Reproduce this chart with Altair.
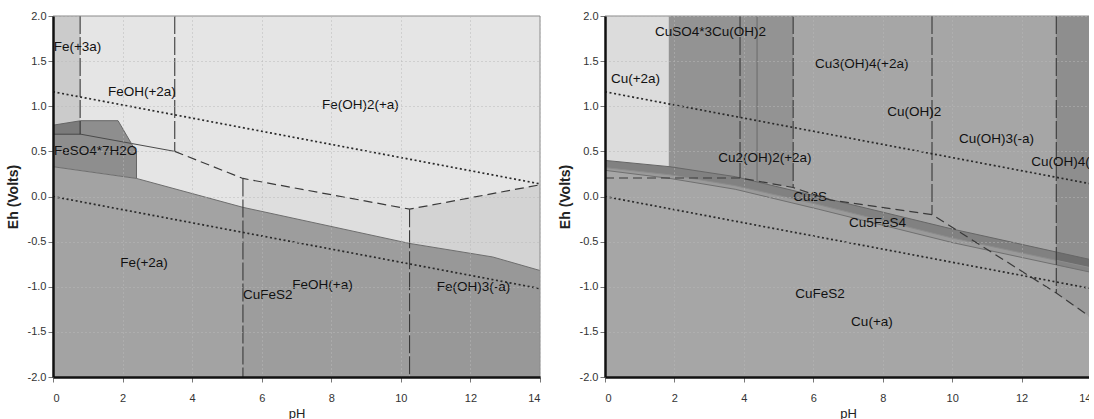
import altair as alt
import pandas as pd

# ---------------- axes ----------------
PH_DOMAIN = [0, 14]
EH_DOMAIN = [-2.0, 2.0]
PH_TICKS = [0, 2, 4, 6, 8, 10, 12, 14]
EH_TICKS = [-2.0, -1.5, -1.0, -0.5, 0.0, 0.5, 1.0, 1.5, 2.0]

# ---------------- water stability lines (both panels) ----------------
WATER_PH = [0, 14]
WATER_EH = {"O2/H2O": [1.16, 0.14], "H2O/H2": [0.0, -1.02]}

# ---------------- Fe panel ----------------
FE_BASE_FIELDS = {  # name: (pH points, lower Eh, upper Eh)
    "Fe(+3a)": ([0, 0.78], [0.79, 0.84], [2.0, 2.0]),
    "Fe(OH)3 upper": ([10.25, 12.64, 14], [-0.52, -0.67, -0.82], [-0.14, 0.03, 0.13]),
    "Fe(OH)2 lower": ([5.46, 10.25], [-0.12, -0.52], [0.20, -0.14]),
    "Fe(+2a)": ([0, 2.4, 5.46], [-2.0, -2.0, -2.0], [0.33, 0.20, -0.12]),
    "FeOH(+a)": ([5.46, 10.25], [-2.0, -2.0], [-0.12, -0.52]),
    "Fe(OH)3(-a)": ([10.25, 12.64, 14], [-2.0, -2.0, -2.0], [-0.52, -0.67, -0.82]),
    "FeSO4*7H2O": ([0, 0.8, 1.87, 2.4], [0.33, 0.287, 0.229, 0.20], [0.79, 0.84, 0.84, 0.49]),
}
FE_OVER_FIELDS = {
    "FeSO4 corner": ([0, 0.8], [0.69, 0.69], [0.79, 0.84]),
}
FE_FILL = {
    "Fe(+3a)": "#cbcbcb", "Fe(OH)3 upper": "#d3d3d3", "Fe(OH)2 lower": "#dedede",
    "Fe(+2a)": "#a3a3a3", "FeOH(+a)": "#9d9d9d", "Fe(OH)3(-a)": "#989898",
    "FeSO4*7H2O": "#8e8e8e", "FeSO4 corner": "#7b7b7b",
}
FE_BG = "#e5e5e5"

FE_SOLID = {  # name: (pH, Eh)
    "boundary": ([0, 2.4, 5.46, 10.25, 12.64, 14], [0.33, 0.20, -0.12, -0.52, -0.67, -0.82]),
    "FeOH2+ base": ([0, 0.8, 3.5], [0.69, 0.69, 0.50]),
    "FeSO4 edge": ([0, 0.8, 1.87, 2.4, 2.4], [0.79, 0.84, 0.84, 0.49, 0.20]),
}
FE_SOLID_COLOR = {"boundary": "#6e6e6e", "FeOH2+ base": "#4a4a4a", "FeSO4 edge": "#666666"}
FE_DASHED = {
    "d1": ([3.5, 5.46, 10.25, 14], [0.50, 0.20, -0.14, 0.13]),
}
FE_VDASHED = {
    "v1": ([0.78, 0.78], [2.0, 0.69]),
    "v2": ([3.5, 3.5], [2.0, 0.50]),
    "v3": ([5.46, 5.46], [0.20, -2.0]),
    "v4": ([10.25, 10.25], [-0.14, -2.0]),
}
FE_LABELS = [
    ("Fe(+3a)", 0.02, 1.66), ("FeOH(+2a)", 1.58, 1.16), ("Fe(OH)2(+a)", 7.73, 1.01),
    ("FeSO4*7H2O", 0.03, 0.50), ("Fe(+2a)", 1.93, -0.74), ("CuFeS2", 5.46, -1.09),
    ("FeOH(+a)", 6.88, -0.98), ("Fe(OH)3(-a)", 11.03, -1.00),
]

# ---------------- Cu panel ----------------
BAND_PH = [0, 1.87, 3.75, 6.14, 10, 14]
BAND_TOP = [0.40, 0.33, 0.22, 0.0, -0.36, -0.70]
BAND_MID = [0.32, 0.24, 0.12, -0.09, -0.46, -0.79]
BAND_LOW = [0.29, 0.20, 0.08, -0.14, -0.51, -0.84]

CU_BASE_FIELDS = {
    "Cu(+2a)": ([0, 1.84], [0.40, 0.33], [2.0, 2.0]),
    "CuSO4*3Cu(OH)2": ([1.84, 3.75, 3.89, 5.42], [0.33, 0.22, 0.205, 0.10], [2.0, 2.0, 2.0, 2.0]),
    "Cu(OH)4(-a)": ([13, 14], [-1.07, -1.34], [2.0, 2.0]),
}
CU_OVER_FIELDS = {
    "Cu(OH)4 lower": ([13, 14], [-1.07, -1.34], [-0.76, -0.84]),
}
CU_BAND_FIELDS = {
    "Cu2S band": (BAND_PH, BAND_MID, BAND_TOP),
    "Cu5FeS4 band": (BAND_PH, BAND_LOW, BAND_MID),
}
CU_FILL = {
    "Cu(+2a)": "#dcdcdc", "CuSO4*3Cu(OH)2": "#939393", "Cu(OH)4(-a)": "#8e8e8e",
    "Cu(OH)4 lower": "#9b9b9b", "Cu2S band": "#000000", "Cu5FeS4 band": "#000000",
}
CU_ALPHA = {"Cu2S band": 0.22, "Cu5FeS4 band": 0.07}
CU_BG = "#a6a6a6"

CU_SOLID = {
    "band top": (BAND_PH, BAND_TOP),
    "band mid": (BAND_PH, BAND_MID),
    "band low": (BAND_PH, BAND_LOW),
    "v 4.38": ([4.38, 4.38], [2.0, 0.16]),
}
CU_SOLID_COLOR = {"band top": "#666666", "band mid": "#8c8c8c", "band low": "#707070", "v 4.38": "#6a6a6a"}
CU_DASHED = {
    "d1": ([0, 3.89, 5.42, 6.5, 9.42, 13, 14], [0.205, 0.205, 0.10, -0.04, -0.20, -1.07, -1.34]),
}
CU_VDASHED = {
    "v1": ([3.89, 3.89], [2.0, 0.205]),
    "v2": ([5.42, 5.42], [2.0, 0.10]),
    "v3": ([9.42, 9.42], [2.0, -0.20]),
    "v4": ([13.0, 13.0], [2.0, -1.07]),
}
CU_LABELS = [
    ("CuSO4*3Cu(OH)2", 1.44, 1.82), ("Cu(+2a)", 0.17, 1.30), ("Cu3(OH)4(+2a)", 6.05, 1.47),
    ("Cu(OH)2", 8.13, 0.94), ("Cu(OH)3(-a)", 10.2, 0.64), ("Cu(OH)4(-a)", 12.28, 0.38),
    ("Cu2(OH)2(+2a)", 3.26, 0.43), ("Cu2S", 5.42, 0.0), ("Cu5FeS4", 7.03, -0.29),
    ("CuFeS2", 5.48, -1.08), ("Cu(+a)", 7.09, -1.39),
]

FONT = "Liberation Sans"
H = 361
W_LEFT, W_RIGHT = 487, 486

XS = alt.Scale(domain=PH_DOMAIN, nice=False, zero=False)
YS = alt.Scale(domain=EH_DOMAIN, nice=False, zero=False)
XAX = alt.Axis(values=PH_TICKS, title="pH", grid=True, zindex=1,
               labelPadding=10, titlePadding=4)
YAX = alt.Axis(values=EH_TICKS, title="Eh (Volts)", grid=True, zindex=1,
               labelExpr="replace(format(datum.value, '.1f'), '\u2212', '-')",
               labelPadding=2, titlePadding=7, titleFontWeight="bold",
               titleFontSize=14)


def X(f="ph"):
    return alt.X(f"{f}:Q", scale=XS, axis=XAX)


def Y(f="eh"):
    return alt.Y(f"{f}:Q", scale=YS, axis=YAX)


def area_frame(fields, fills, alphas=None):
    rows = []
    for name, (ph, lo, hi) in fields.items():
        for p, a, b in zip(ph, lo, hi):
            rows.append({"region": name, "ph": p, "lo": a, "hi": b,
                         "fill": fills[name],
                         "alpha": (alphas or {}).get(name, 1.0)})
    return pd.DataFrame(rows)


def line_frame(lines, colors=None, default="#3a3a3a"):
    rows = []
    for name, (ph, eh) in lines.items():
        for i, (p, e) in enumerate(zip(ph, eh)):
            rows.append({"line": name, "idx": i, "ph": p, "eh": e,
                         "stroke": (colors or {}).get(name, default)})
    return pd.DataFrame(rows)


def area_layer(df):
    return alt.Chart(df).mark_area(interpolate="linear").encode(
        x=X("ph"), y=Y("lo"), y2=alt.Y2("hi"),
        color=alt.Color("fill:N", scale=None),
        opacity=alt.Opacity("alpha:Q", scale=None),
        detail="region:N",
    )


def line_layer(df, width, dash=None):
    kw = {"strokeWidth": width}
    if dash:
        kw["strokeDash"] = dash
    return alt.Chart(df).mark_line(**kw).encode(
        x=X("ph"), y=Y("eh"), detail="line:N", order="idx:Q",
        color=alt.Color("stroke:N", scale=None),
    )


def panel(bg, layers_fields, solid, solid_colors, dashed, vdashed, labels, width):
    bg_df = pd.DataFrame({"ph": [PH_DOMAIN[0], PH_DOMAIN[1]],
                          "lo": [EH_DOMAIN[0]] * 2, "hi": [EH_DOMAIN[1]] * 2,
                          "fill": [bg, bg], "alpha": [1.0, 1.0], "region": ["bg", "bg"]})
    layers = [area_layer(bg_df)]
    for df in layers_fields:
        layers.append(area_layer(df))
    water = {k: (WATER_PH, v) for k, v in WATER_EH.items()}
    layers.append(line_layer(line_frame(solid, solid_colors), 1.0))
    layers.append(line_layer(line_frame(dashed), 1.2, [9, 5]))
    layers.append(line_layer(line_frame(vdashed), 1.1, [18, 3]))
    layers.append(line_layer(line_frame(water, default="#2a2a2a"), 1.7, [2, 2.6]))
    lab = pd.DataFrame(labels, columns=["label", "ph", "eh"])
    layers.append(alt.Chart(lab).mark_text(
        align="left", baseline="middle", font=FONT, fontSize=13.5,
        color="#111111", clip=True).encode(x=X("ph"), y=Y("eh"), text="label:N"))
    frame = pd.DataFrame({"ph": [PH_DOMAIN[0]], "ph2": [PH_DOMAIN[1]],
                          "eh": [EH_DOMAIN[0]], "eh2": [EH_DOMAIN[1]]})
    layers.append(alt.Chart(frame).mark_rule(color="#8a8a8a", strokeWidth=1).encode(
        x=X("ph"), x2="ph2", y=Y("eh2")))
    layers.append(alt.Chart(frame).mark_rule(color="#8a8a8a", strokeWidth=1).encode(
        x=X("ph2"), y=Y("eh"), y2="eh2"))
    return alt.layer(*layers).properties(width=width, height=H)


fe = panel(FE_BG,
           [area_frame(FE_BASE_FIELDS, FE_FILL), area_frame(FE_OVER_FIELDS, FE_FILL)],
           FE_SOLID, FE_SOLID_COLOR, FE_DASHED, FE_VDASHED, FE_LABELS, W_LEFT)
cu = panel(CU_BG,
           [area_frame(CU_BASE_FIELDS, CU_FILL), area_frame(CU_OVER_FIELDS, CU_FILL),
            area_frame(CU_BAND_FIELDS, CU_FILL, CU_ALPHA)],
           CU_SOLID, CU_SOLID_COLOR, CU_DASHED, CU_VDASHED, CU_LABELS, W_RIGHT)

chart = alt.hconcat(fe, cu, spacing=14).properties(
    padding={"left": 6, "top": 10, "right": -6, "bottom": 0},
    background="#ffffff",
).configure_view(stroke=None).configure_axis(
    labelFont=FONT, titleFont=FONT, labelFontSize=11, labelColor="#333333",
    titleFontSize=13, titleColor="#222222", tickColor="#777777", tickSize=5,
    domainColor="#111111", domainWidth=2.5, gridColor="#b9b9b9",
    gridDash=[1, 3], gridWidth=1,
).configure_axisX(titleFontWeight="normal")

chart.save("out.html", embed_options={"renderer": "svg", "actions": False})
